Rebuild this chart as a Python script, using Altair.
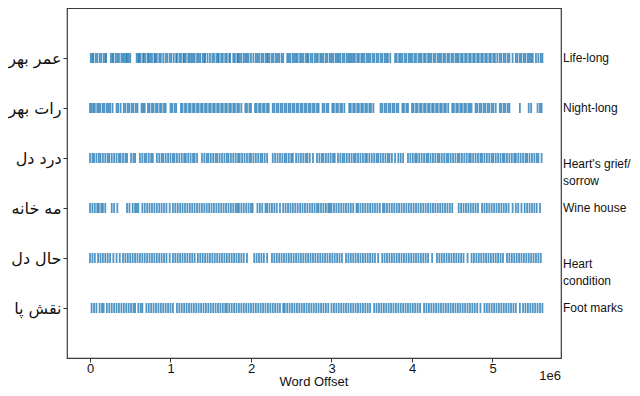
import altair as alt
import pandas as pd

# Row labels (top to bottom)
words_ur = ["عمر بھر", "رات بھر", "درد دل", "مه خانه", "حال دل", "نقش پا"]
words_en = [" Life-long", "Night-long", "Heart's grief/\nsorrow", "Wine house", "Heart\ncondition", "Foot marks"]
x_ticks = [0, 1, 2, 3, 4, 5]          # in millions of words
x_title = "Word Offset"
x_exp = "1e6"

# Occurrence offsets, in units of 10,000 words
row0 = [1,3,4,7,9, 12,14,17, 19,20, 26,28,29, 32,34,36, 39,41, 43,45,46,48,50,
        58,60,61,63,66,67,69,72,73,75,77,80,81,83, 86,88,91, 94,96,99,101,104,
        107,108,111,113,116,117,119,122,124,126,128,130, 133,135,137,140,142,143,146,149,
        152,154,157,159,160,163,165,168,170, 173,174, 178,180,183, 184,186,188,191,193,195,
        197,200,203, 206,208,210,213,215,218,220, 221,223,226,228,231,233,235,238,240,
        245,247,249,252,254,256,258,261,263,265,268,270,271,274,276,279,281,283,286,288,290,
        293,295,298,300,302,305,307,309,311,314,316,319,321,323,325,327,
        329,332,334,337,339,341,344,346,348,351,353,356,358,361,363,366,368,370,373,
        379,381,384,386,388,391,393,396,398,400,403,405,408,410,412,415,417,420,422,424,427,
        429,432,434,436,439,441,444,446,449,451,454,456,
        458,461,463,466,468,471,473,476,478,481,483,486,488,491,493,496,498,501,503,506,509,
        511,514,516,519,521,525, 529,531,534,536,539,541,544,546,548,550, 554,557,560,562]
row1 = [0,2,4,6,9,11,13,16,18,21,23,25,28, 33,35,38, 42,44,47,49,52,54,57,59, 64,66,68,
        72,74,77,79,82,84,87,89,92,94, 100,102,105,107,
        113,115,118,120,123,125,128,130,133,135,138,140,143,145,148,150,153,155,158,160,
        163,165,168,170,173,175,178,180,183,185,188, 193,195,198,200,
        205,207,210,212,215,217,220,222,
        227,229,232,234,237,239,242,244,247,249,252,254,257,259,262,264,267,269,272,274,
        277,279,282,284, 289,291,294,296, 301,303,306,308,311,313,316,
        322,324,327,329,332,334,337,339,342,344,347,349,352, 361,363,366,368,371,373,376,378,
        381,383, 388,390,393,395, 400,402,405,407,410,412,415,417,420,422,425,427,430,432,
        435,437,440,442,445, 450,452,455,457,460,462,465,467,470,472,474,
        479,481,484,486,489,491,494,496,499,501,504, 509,511,514,516,519,521,
        534, 545,548, 556,559,561]
row2 = [0,3,5,8,11,13,16,19,22,24,27,30,33,36,38,41,44,46, 51,54,56, 62,65,68,70,73,76,78,
        83,86,89,91,94,97,100,103,105,108,111,114,117,119,122,125,128,130,133,
        139,142,145,147,150,153,156,158,161,164,167,170,172,175,178,181,184,186,189,192,195,
        198,200,203,206,209,212,214,217,220, 227,230,233,236,239,242,244,247,250,252,
        256,259,262,265,268,270,273,277, 282,285,288,290,293,296,299,302,304,
        308,311,314,316,319,322,325,328,330,333,336,339,342,344,347,350,353,356,358,361,364,
        367,370,372,375,379, 383,386,389,
        395,398,401,404,406,409,412,415,418,420,423,426,429,432,434,437,440,443,
        445,448,451,454,457,459,462,465,468,471,473,476,479,482,485,487,490,493,496,499,501,
        504,507,510,513,515,518,521,524,527,529,532,535,538,541,543,546,549,552,555,557,561]
row3 = [0,3,6,9, 11,14,16,19, 27,30,34, 46,49,53, 56,58,60,
        65,68,71,74,77,80,83,86,89,92,95,99,
        103,106,109,112,115,118,121,124,127,130,133,136,139,142,145,148,151,154,157,160,163,
        166,169,172,175,178,181,183, 185,188,191,194,197,200,202, 208,211,214,218,
        220,223,226,229,232,236, 240,243,246,249,252,255,258,261,264,267,270,273,276,279,282,
        284,287,290,293,296,298, 300,303,306,309,312,315,318,321,324,327,331,
        333,336,339,342,345,348,351,354,357,360,364,
        366,369,372,375,378,381,384,387,390,393,396,399,402,405,408,411,414,417,420,423,426,
        429,432,435,438,441,444,447,450, 458,461,464,467,470,473,476,479,482,
        487,490,493,496,499,502,505,508,511,514,517,520,525, 529,532,536,540,
        543,546,549,552,555,559]
row4 = [0,3,6, 10,13,16,19,22,25, 29,33,37,
        41,44,47,50,53,56,59,62,65,68,71,74,77,80,83,86,89,92,95,99,
        103,106,109,112,115,118,121,124,127,130, 134,137,140,143,146,149,152,155,158,
        161,164,167,170,173,176,179,182,185,188,191,195, 204,207,210,213,216,220,
        226,229,232,235,238,241,244,247,250,253,256,259,262,265,268,271,274,277,280,283,286,
        289,292,295,298, 301,304,307,310,313,
        318,321,324,327,330,333,336,339,342,345,348,351,354,358,
        363,366,369,372,375,378,381,384,387,390,393,396,399,402,405,408,411,414,417,420,425,
        431,434,437,440,443,446,449,452,455,458,461,464,469,
        474,477,480,483,486,489,492,495,498,501,504,507,510,513,
        518,521,524,527,530,533,536,539,542,545,548,551,554,557,560]
row5 = [2,5,8,12, 15,17, 21,24,27,30,33,36,39,42,45,48,51,54,56, 60,63,65,
        70,73,76,79,82,85,88,91,94,97,100,103,
        108,111,114,117,120,123,126,129,132,135,138,141,144,147,150,153,156,159,162,165,168,170,
        173,176,179,182,185,188,191,194,197,200,203,206,209,212,215,218,221,224,227,230,233,
        236,240, 242,245,248,251,254,257,260,263,266,269,272,275,278,281,284,287,290,293,296,
        300,303,306,309,312,315,318,321,324,327,330,333,336,339,342,345,348,
        353,356,359,362,365,368,371,374,377,380,383,386,389,392,395,398,401,404,407,410,
        415,418,421,424,427,430,433,436,439,442,445,448,451,454,457,460,463,466,469,472,475,
        478,481,485, 490,493,496,499,502,505,508,511,514,517,520,523,526,529,534,
        538,541,544,547,550,553,556,559,562]
rows = [row0, row1, row2, row3, row4, row5]

df = pd.DataFrame(
    [{"row": i, "offset": v * 10000} for i, r in enumerate(rows) for v in r]
)
lab_df = pd.DataFrame({
    "row": list(range(len(words_en))),
    "label": words_en,
    "multi": ["\n" in w for w in words_en],
})

W, H = 494, 350
FONT = "Liberation Sans"

xs = alt.Scale(domain=[-285700, 5851000], nice=False, zero=False)
ys = alt.Scale(domain=[-1, len(words_ur)], nice=False, zero=False, reverse=True)

ur_expr = "[" + ",".join("'" + w + "'" for w in words_ur) + "][datum.value]"

x_axis = alt.Axis(
    values=[v * 1_000_000 for v in x_ticks], labelExpr="datum.value / 1000000",
    title=None, grid=False, domain=False, tickSize=4, tickColor="#333",
    labelFont=FONT, labelFontSize=13, labelColor="#111", labelPadding=0,
)
y_axis = alt.Axis(
    values=list(range(len(words_ur))), labelExpr=ur_expr, title=None, grid=False,
    domain=False, tickSize=4, tickColor="#333", labelFont="DejaVu Sans",
    labelFontSize=16, labelColor="#111", labelPadding=2,
)

ticks = alt.Chart(df).mark_tick(
    orient="vertical", size=10, thickness=1.8, color="#1f77b4", opacity=0.78
).encode(
    x=alt.X("offset:Q", scale=xs, axis=x_axis),
    y=alt.Y("row:Q", scale=ys, axis=y_axis),
)

single = alt.Chart(lab_df).transform_filter("!datum.multi").mark_text(
    align="left", baseline="middle", font=FONT, fontSize=12, color="#111"
).encode(
    x=alt.value(W + 2),
    y=alt.Y("row:Q", scale=ys, axis=y_axis),
    text="label:N",
)
multi = alt.Chart(lab_df).transform_filter("datum.multi").mark_text(
    align="left", baseline="middle", font=FONT, fontSize=12, color="#111",
    lineBreak="\n", lineHeight=17, dy=6
).encode(
    x=alt.value(W + 2),
    y=alt.Y("row:Q", scale=ys, axis=y_axis),
    text="label:N",
)
exp_text = alt.Chart(pd.DataFrame({"t": [x_exp]})).mark_text(
    align="right", baseline="alphabetic", font=FONT, fontSize=13, color="#111"
).encode(
    x=alt.value(W),
    y=alt.value(H + 22),
    text="t:N",
)
title_text = alt.Chart(pd.DataFrame({"t": [x_title]})).mark_text(
    align="center", baseline="alphabetic", font=FONT, fontSize=13, color="#111"
).encode(
    x=alt.value(W / 2),
    y=alt.value(H + 28),
    text="t:N",
)

chart = alt.layer(ticks, single, multi, exp_text, title_text).properties(
    width=W, height=H,
    background="white",
    autosize=alt.AutoSizeParams(type="none"),
    padding={"left": 59, "top": 0, "right": 71, "bottom": 30},
).configure_view(stroke="#3a3a3a", strokeWidth=1.2)

chart.save("out.html", embed_options={"renderer": "svg", "actions": False})
